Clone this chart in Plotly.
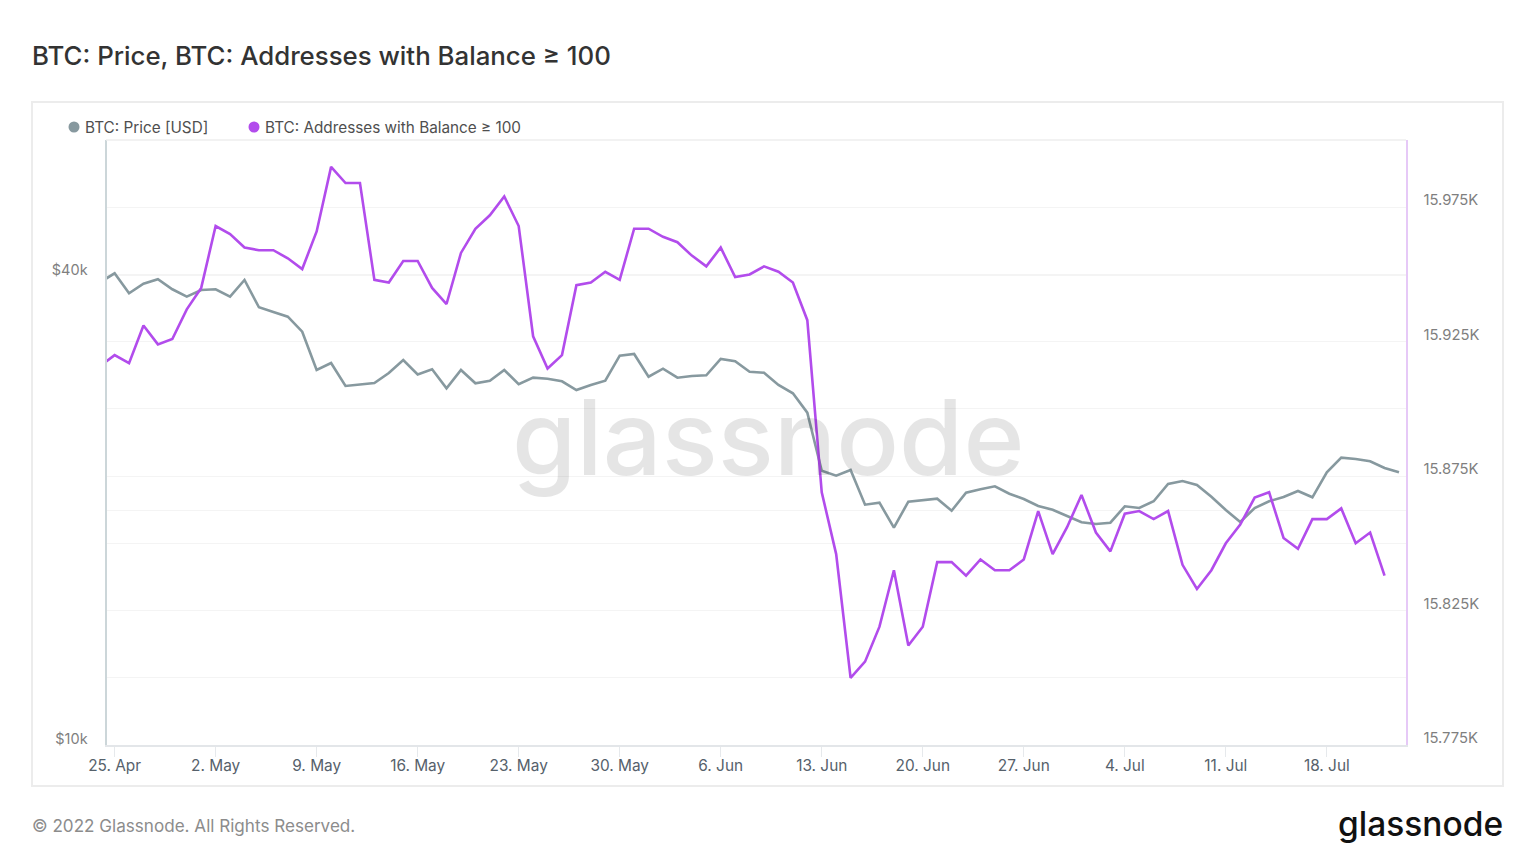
import pandas as pd
import plotly.graph_objects as go

# daily values from 24 Apr 2022
price = [39262, 40320, 38006, 39100, 39612, 38458, 37626, 38378, 38458, 37626, 39530, 36465,
         35962, 35466, 33928, 30295, 30929, 28896, 29024, 29154, 30028, 31204, 29895, 30358,
         28700, 30295, 29128, 29353, 30295, 29042, 29614, 29526, 29300, 28556, 28982, 29353,
         31604, 31763, 29702, 30412, 29614, 29764, 29826, 31296, 31084, 30143, 30054, 28982,
         28279, 26703, 22496, 22166, 22542, 20346, 20467, 19009, 20528, 20631, 20711, 19988,
         21079, 21292, 21482, 21017, 20692, 20266, 20046, 19677, 19314, 19217, 19291, 20248,
         20146, 20552, 21628, 21821, 21564, 20833, 20028, 19331, 20146, 20552, 20815, 21186,
         20796, 22390, 23377, 23288, 23130, 22676, 22390]
addresses = [15916, 15920, 15917, 15931, 15924, 15926, 15937, 15945, 15968, 15965, 15960, 15959,
             15959, 15956, 15952, 15966, 15990, 15984, 15984, 15948, 15947, 15955, 15955, 15945,
             15939, 15958, 15967, 15972, 15979, 15968, 15927, 15915, 15920, 15946, 15947, 15951,
             15948, 15967, 15967, 15964, 15962, 15957, 15953, 15960, 15949, 15950, 15953, 15951,
             15947, 15933, 15869, 15846, 15800, 15806, 15819, 15840, 15812, 15819, 15843, 15843,
             15838, 15844, 15840, 15840, 15844, 15862, 15846, 15856, 15868, 15854, 15847, 15861,
             15862, 15859, 15862, 15842, 15833, 15840, 15850, 15857, 15867, 15869, 15852, 15848,
             15859, 15859, 15863, 15850, 15854, 15838]

x_ticks = ["2022-04-25", "2022-05-02", "2022-05-09", "2022-05-16", "2022-05-23", "2022-05-30", "2022-06-06",
           "2022-06-13", "2022-06-20", "2022-06-27", "2022-07-04", "2022-07-11", "2022-07-18"]
x_labels = ["25. Apr", "2. May", "9. May", "16. May", "23. May", "30. May", "6. Jun",
            "13. Jun", "20. Jun", "27. Jun", "4. Jul", "11. Jul", "18. Jul"]
price_ticks = [10000, 20000, 40000]
price_labels = ["$10k", "", "$40k"]
addr_ticks = [15775, 15800, 15825, 15850, 15875, 15900, 15925, 15950, 15975]
addr_labels = ["15.775K", "", "15.825K", "", "15.875K", "", "15.925K", "", "15.975K"]

# page body has an 8px margin, so the figure is 16px smaller than the window
W, H = 1520, 848
OFFSET = 8
GREY = "#87999f"
PURPLE = "#b24cec"
FONT = "Inter"
dates = pd.date_range("2022-04-24", periods=len(price), freq="D")


def px(v):
    return (v - OFFSET) / W


def py(v):
    return 1 - (v - OFFSET) / H


def label(x, y, text, size, color, anchor="left", weight=400):
    fig.add_annotation(x=px(x), y=py(y), xref="paper", yref="paper", text=text, showarrow=False,
                       xanchor=anchor, yanchor="middle", borderpad=0,
                       font=dict(family=FONT, size=size, color=color, weight=weight))


fig = go.Figure()
fig.add_trace(go.Scatter(x=dates, y=price, mode="lines", name="BTC: Price [USD]",
                         line=dict(color=GREY, width=2.6), yaxis="y"))
fig.add_trace(go.Scatter(x=dates[:len(addresses)], y=addresses, mode="lines", name="BTC: Addresses with Balance ≥ 100",
                         line=dict(color=PURPLE, width=2.6), yaxis="y2"))

fig.update_layout(
    width=W, height=H, margin=dict(l=0, r=0, t=0, b=0), paper_bgcolor="white", plot_bgcolor="white",
    showlegend=False, font=dict(family=FONT),
    xaxis=dict(type="date", domain=[px(106.5), px(1405.5)], range=["2022-04-24 10:30", "2022-07-23 10:50"],
               tickvals=x_ticks, ticktext=x_labels, ticks="outside", ticklen=10, tickcolor="#e6e9ec", tickwidth=1,
               showgrid=False, showline=True, linecolor="#e3e6e9", linewidth=1.5, zeroline=False, automargin=False,
               ticklabelstandoff=-4, tickfont=dict(size=15.4, color="#56616b")),
    yaxis=dict(type="log", domain=[py(745), py(140)], range=[4, 4.7766], tickvals=price_ticks, ticktext=price_labels,
               showgrid=True, gridcolor="#f4f4f4", gridwidth=1, showline=True, linecolor="#ccd6d9", linewidth=2,
               ticks="", ticklabelstandoff=14, ticklabelshift=-6, zeroline=False, automargin=False,
               tickfont=dict(size=14.5, color="#7f7f7f")),
    yaxis2=dict(overlaying="y", side="right", range=[15775, 16000], tickvals=addr_ticks, ticktext=addr_labels,
                showgrid=True, gridcolor="#f4f4f4", gridwidth=1, showline=True, linecolor="#e6c9f7", linewidth=2,
                ticks="", ticklabelstandoff=13, ticklabelshift=-7, zeroline=False, automargin=False,
                tickfont=dict(size=14.8, color="#7f7f7f")),
)

# card frame, top edge of the plot, legend dots
fig.add_shape(type="rect", xref="paper", yref="paper", x0=px(32), x1=px(1503), y0=py(786), y1=py(102),
              line=dict(color="#ececec", width=2), layer="below")
fig.add_shape(type="line", xref="paper", yref="paper", x0=px(106), x1=px(1406), y0=py(140), y1=py(140),
              line=dict(color="#eeeeee", width=1.5))
for cx, col in [(74, GREY), (254, PURPLE)]:
    fig.add_shape(type="circle", xref="paper", yref="paper", x0=px(cx - 5.5), x1=px(cx + 5.5),
                  y0=py(127 + 5.5), y1=py(127 - 5.5), fillcolor=col, line=dict(width=0))

label(31, 55, "BTC: Price, BTC: Addresses with Balance ≥ 100", 25.8, "#333333", weight=500)
label(84, 127, "BTC: Price [USD]", 15.3, "#4f4f4f")
label(264, 127, "BTC: Addresses with Balance ≥ 100", 15.3, "#4f4f4f")
label(31, 825, "© 2022 Glassnode. All Rights Reserved.", 17.1, "#8c8c8c")
label(1504, 824, "glassnode", 33.5, "#111111", anchor="right", weight=500)
label(768, 437, "glassnode", 104, "rgba(0,0,0,0.1)", anchor="center", weight=500)

fig.write_html("out.html")
